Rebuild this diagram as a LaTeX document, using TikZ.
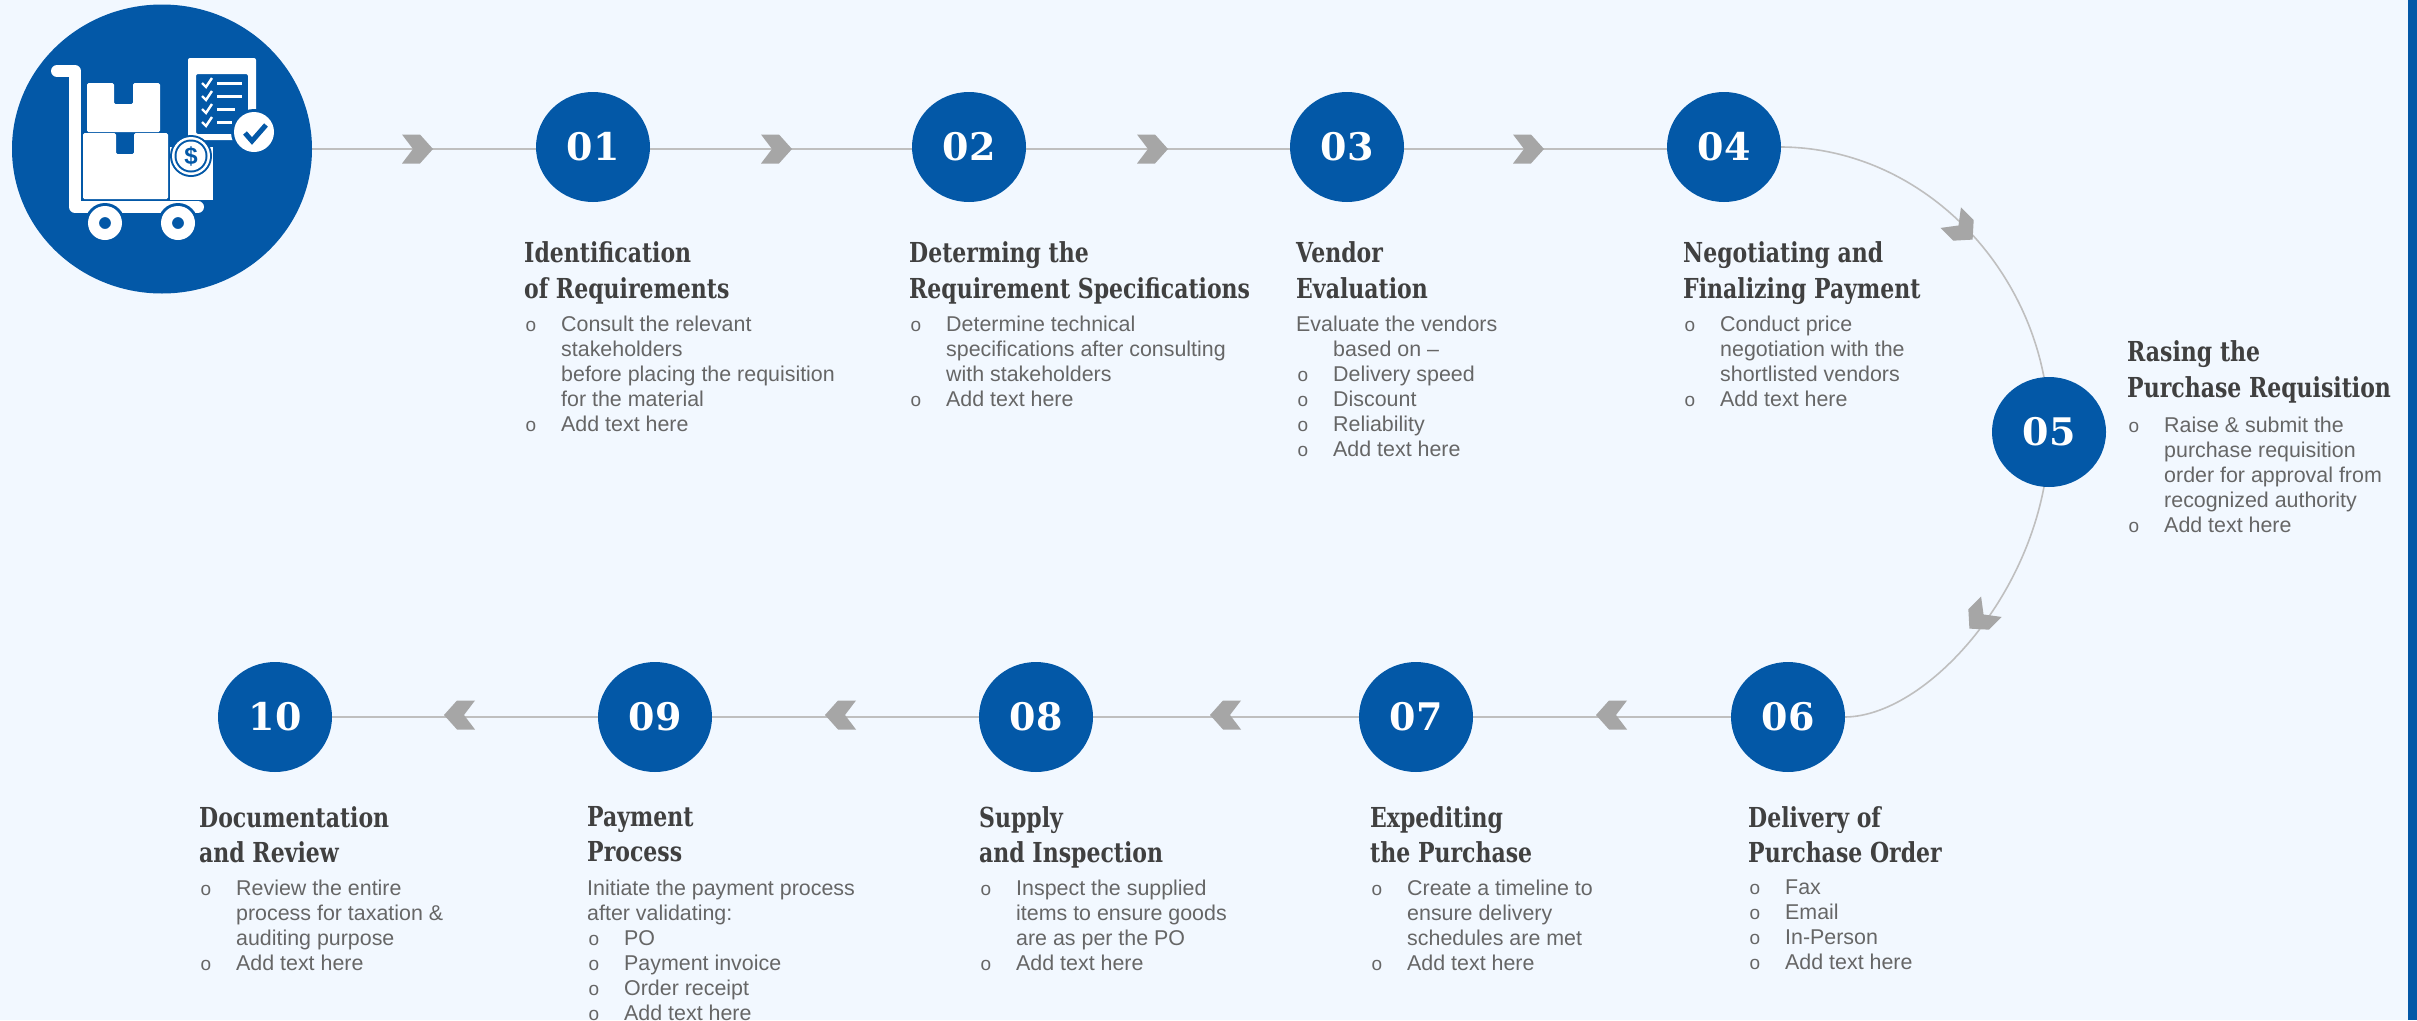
\documentclass[tikz,border=0pt]{standalone}
\usepackage{fontspec}
\setmainfont{Liberation Sans}
\newfontfamily\headfont[FakeStretch=0.80]{DejaVu Serif}
\newfontfamily\numfont{DejaVu Serif}
\usetikzlibrary{backgrounds,shapes.geometric}
\definecolor{pagebg}{HTML}{F2F8FF}
\definecolor{mainblue}{HTML}{0358A7}
\definecolor{linegray}{HTML}{BFBFBF}
\definecolor{chevgray}{HTML}{A6A6A6}
\definecolor{headgray}{HTML}{404040}
\definecolor{bodygray}{HTML}{666666}
\newcommand{\bl}[1]{\makebox[37pt][l]{\hspace*{1.5pt}\fontsize{19}{19}\selectfont o}#1}
\newcommand{\cl}[1]{\hspace*{37pt}#1}
\newcommand{\chev}[3]{\fill[chevgray,shift={(#1,#2)},rotate=#3] (-16,-14.5) -- (2,-14.5) -- (15,0) -- (2,14.5) -- (-16,14.5) -- (-5,0) -- cycle;}
\tikzset{
  x=1pt,y=-1pt,
  stepdot/.style={fill=mainblue,text=white,shape=ellipse,inner sep=0pt,minimum width=114pt,minimum height=110pt,font=\numfont\bfseries\fontsize{38}{38}\selectfont},
  headtxt/.style={anchor=north west,inner sep=0pt,align=left,text=headgray,font=\headfont\bfseries\fontsize{27.5}{35.5}\selectfont},
  bodytxt/.style={anchor=north west,inner sep=0pt,align=left,text=bodygray,font=\fontsize{21.4}{25}\selectfont},
  conn/.style={draw=linegray,line width=2pt},
  wh/.style={fill=white,draw=none}
}
\begin{document}
\begin{tikzpicture}
\useasboundingbox (0,0) rectangle (2417,1020);
% main icon circle
\node[fill=mainblue,shape=ellipse,inner sep=0pt,minimum width=300pt,minimum height=289pt] (hub) at (162,149) {};
% step circles
\node[stepdot] (n01) at (593,147) {\raisebox{-1.5pt}{01}};
\node[stepdot] (n02) at (969,147) {\raisebox{-1.5pt}{02}};
\node[stepdot] (n03) at (1347,147) {\raisebox{-1.5pt}{03}};
\node[stepdot] (n04) at (1724,147) {\raisebox{-1.5pt}{04}};
\node[stepdot] (n05) at (2049,432) {\raisebox{-1.5pt}{05}};
\node[stepdot] (n06) at (1788,717) {\raisebox{-1.5pt}{06}};
\node[stepdot] (n07) at (1416,717) {\raisebox{-1.5pt}{07}};
\node[stepdot] (n08) at (1036,717) {\raisebox{-1.5pt}{08}};
\node[stepdot] (n09) at (655,717) {\raisebox{-1.5pt}{09}};
\node[stepdot] (n10) at (275,717) {\raisebox{-1.5pt}{10}};
\begin{scope}[on background layer]
\fill[pagebg] (0,0) rectangle (2417,1020);
\fill[mainblue] (2408,0) rectangle (2417,1020);
\draw[conn] (hub.east) -- (hub.east -| n01);
\draw[conn] (hub.east -| n01) -- (hub.east -| n02);
\draw[conn] (hub.east -| n02) -- (hub.east -| n03);
\draw[conn] (hub.east -| n03) -- (hub.east -| n04);
\draw[conn,line width=1.6pt] (n04.east) .. controls (1931,148) and (2050,283) .. (n05.center);
\draw[conn,line width=1.6pt] (n05.center) .. controls (2050,579) and (1931,716) .. (n06.east);
\draw[conn] (n06) -- (n07);
\draw[conn] (n07) -- (n08);
\draw[conn] (n08) -- (n09);
\draw[conn] (n09) -- (n10);
\end{scope}
% chevrons
\chev{418}{149}{0}\chev{777}{149}{0}\chev{1153}{149}{0}\chev{1529}{149}{0}
\chev{1962}{229}{-45}\chev{1980}{618}{-135}
\chev{1611}{715}{180}\chev{1225}{715}{180}\chev{840}{715}{180}\chev{459}{715}{180}
% icon
\draw[white,line width=12pt,line cap=round,line join=round] (57,71) -- (75,71) -- (75,207) -- (198,207);
\fill[wh,rounded corners=1.5pt] (87,83) -- (114,83) -- (114,104) -- (133,104) -- (133,83) -- (160,83) -- (160,132) -- (87,132) -- cycle;
\fill[wh,rounded corners=1.5pt] (83,133) -- (116,133) -- (116,154) -- (134,154) -- (134,133) -- (168,133) -- (168,199) -- (83,199) -- cycle;
\fill[wh] (170,147) rectangle (213,200);
\fill[mainblue] (105,223) circle (20);
\fill[mainblue] (178,223) circle (20);
\fill[wh,even odd rule] (105,223) circle (17) (105,223) circle (6);
\fill[wh,even odd rule] (178,223) circle (17) (178,223) circle (6);
\fill[wh,rounded corners=2pt,even odd rule] (188,58) rectangle (256,140) (196,74) rectangle (248,134);
\fill[wh] (196,134) rectangle (230,140);
\foreach \yy/\xe in {83/242,96/242,109/235,122/232}{
  \draw[white,line width=3pt] (217,\yy) -- (\xe,\yy);
  \draw[white,line width=2.4pt] (202,\yy) -- (206,\yy+4) -- (212,\yy-5);
}
\fill[mainblue] (191,156) circle (21);
\fill[white] (191,156) circle (19);
\fill[mainblue] (191,156) circle (16.5);
\fill[white] (191,156) circle (14.5);
\node[inner sep=0pt,text=mainblue,font=\bfseries\fontsize{24}{24}\selectfont] (coin) at (191,156) {\$};
\fill[mainblue] (254,132) circle (23);
\fill[white] (254,132) circle (20);
\draw[mainblue,line width=5pt] (245,133) -- (252,141) -- (266,125);
% headings
\node[headtxt] (h01) at (524,241.5) {Identification\\of Requirements};
\node[headtxt] (h02) at (909,241.5) {Determing the\\Requirement Specifications};
\node[headtxt] (h03) at (1296,241.5) {Vendor\\Evaluation};
\node[headtxt] (h04) at (1683,241.5) {Negotiating and\\Finalizing Payment};
\node[headtxt] (h05) at (2127,340.5) {Rasing the\\Purchase Requisition};
\node[headtxt] (h06) at (1748,806) {Delivery of\\Purchase Order};
\node[headtxt] (h07) at (1370,806) {Expediting\\the Purchase};
\node[headtxt] (h08) at (979,806) {Supply\\and Inspection};
\node[headtxt] (h09) at (587,806) {Payment\\Process};
\node[headtxt] (h10) at (199,806) {Documentation\\and Review};
% body
\node[bodytxt] (b01) at (524,315.5) {\bl{Consult the relevant}\\\cl{stakeholders}\\\cl{before placing the requisition}\\\cl{for the material}\\\bl{Add text here}};
\node[bodytxt] (b02) at (909,315.5) {\bl{Determine technical}\\\cl{specifications after consulting}\\\cl{with stakeholders}\\\bl{Add text here}};
\node[bodytxt] (b03) at (1296,315.5) {Evaluate the vendors\\\cl{based on --}\\\bl{Delivery speed}\\\bl{Discount}\\\bl{Reliability}\\\bl{Add text here}};
\node[bodytxt] (b04) at (1683,315.5) {\bl{Conduct price}\\\cl{negotiation with the}\\\cl{shortlisted vendors}\\\bl{Add text here}};
\node[bodytxt] (b05) at (2127,416.5) {\bl{Raise \& submit the}\\\cl{purchase requisition}\\\cl{order for approval from}\\\cl{recognized authority}\\\bl{Add text here}};
\node[bodytxt] (b06) at (1748,879.5) {\bl{Fax}\\\bl{Email}\\\bl{In-Person}\\\bl{Add text here}};
\node[bodytxt] (b07) at (1370,879.5) {\bl{Create a timeline to}\\\cl{ensure delivery}\\\cl{schedules are met}\\\bl{Add text here}};
\node[bodytxt] (b08) at (979,879.5) {\bl{Inspect the supplied}\\\cl{items to ensure goods}\\\cl{are as per the PO}\\\bl{Add text here}};
\node[bodytxt] (b09) at (587,879.5) {Initiate the payment process\\after validating:\\\bl{PO}\\\bl{Payment invoice}\\\bl{Order receipt}\\\bl{Add text here}};
\node[bodytxt] (b10) at (199,879.5) {\bl{Review the entire}\\\cl{process for taxation \&}\\\cl{auditing purpose}\\\bl{Add text here}};
\end{tikzpicture}
\end{document}
